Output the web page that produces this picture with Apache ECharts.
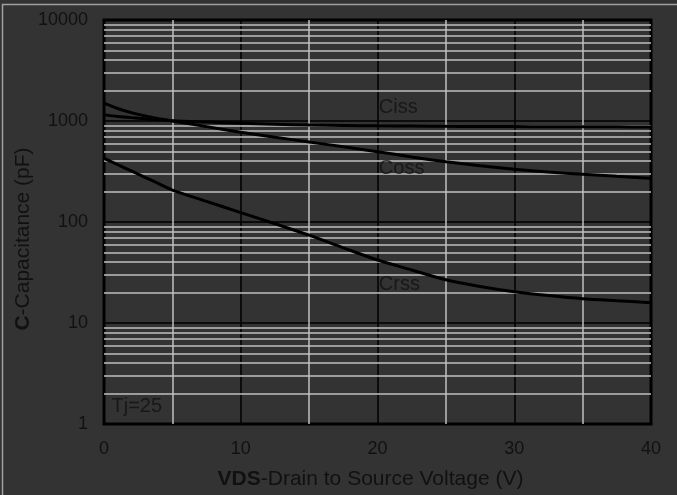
<!DOCTYPE html>
<html>
<head>
<meta charset="utf-8">
<script src="https://cdn.jsdelivr.net/npm/echarts@6/dist/echarts.min.js"></script>
<style>
  html, body { margin: 0; padding: 0; background: #333333; }
  #chart { width: 677px; height: 495px; }
</style>
</head>
<body>
<div id="chart"></div>
<script>
// Drain-source voltage sample points (V)
const vds  = [0, 1, 2, 3, 4, 5, 7.5, 10, 12.5, 15, 17.5, 20, 22.5, 25, 27.5, 30, 32.5, 35, 37.5, 40];
// Input capacitance (pF)
const ciss = [1150, 1110, 1080, 1055, 1030, 1005, 975, 948, 930, 912, 902, 895, 890, 886, 883, 880, 878, 876, 875, 873];
// Output capacitance (pF)
const coss = [1500, 1330, 1210, 1120, 1055, 1000, 880, 775, 690, 620, 555, 497, 440, 395, 360, 333, 312, 297, 283, 271];
// Reverse transfer capacitance (pF)
const crss = [427, 369, 320, 277, 240, 207, 160, 124, 96, 74, 55.5, 42, 33.5, 26.8, 23, 20.4, 18.7, 17.4, 16.6, 15.9];

// Axis ranges
const xRange = [0, 40];
const yRange = [1, 10000];

// Curve names and the text notes placed beside them
const curveNames = ['Ciss', 'Coss', 'Crss'];
const notes = [
  { text: 'Ciss',  x: 20.1, y: 1355 },
  { text: 'Coss',  x: 20.1, y: 335 },
  { text: 'Crss',  x: 20.1, y: 23.8 },
  { text: 'Tj=25', x: 0.55, y: 1.48 }
];

// Light minor grid lines inside each decade (2..9 x 10^n)
const minorY = [];
for (let d = yRange[0]; d < yRange[1]; d *= 10) {
  for (let k = 2; k <= 9; k++) minorY.push(k * d);
}

const FONT = "'Liberation Sans', Arial, sans-serif";
const INK = '#111111';

const pair = (ys) => vds.map((x, i) => [x, ys[i]]);
const curve = (name, ys) => ({
  name: name,
  type: 'line',
  data: pair(ys),
  smooth: 0.3,
  showSymbol: false,
  symbol: 'none',
  z: 5,
  lineStyle: { color: '#000000', width: 3 },
  silent: true
});

const chart = echarts.init(document.getElementById('chart'), null, { renderer: 'canvas' });
chart.setOption({
  backgroundColor: '#333333',
  animation: false,
  graphic: [{
    type: 'rect',
    shape: { x: 2.5, y: 4.5, width: 800, height: 800 },
    style: { fill: 'none', stroke: '#a0a0a0', lineWidth: 1.5 },
    silent: true,
    z: 0
  }],
  grid: {
    left: 104, right: 26, top: 20, bottom: 71,
    outerBoundsMode: 'none',
    containLabel: false,
    show: true,
    backgroundColor: '#333333',
    borderColor: '#000000',
    borderWidth: 3
  },
  xAxis: {
    type: 'value',
    min: xRange[0], max: xRange[1], interval: 10,
    name: '{b|VDS}-Drain to Source Voltage (V)',
    nameLocation: 'middle',
    nameGap: 45,
    nameMoveOverlap: false,
    nameTextStyle: {
      fontFamily: FONT, fontSize: 21, color: INK,
      padding: [0, 14, 0, 0],
      rich: { b: { fontFamily: FONT, fontSize: 21, fontWeight: 'bold', color: INK } }
    },
    axisLine: { show: false },
    axisTick: { show: false },
    axisLabel: { fontFamily: FONT, fontSize: 18, color: INK, margin: 16 },
    splitLine: { show: true, lineStyle: { color: '#000000', width: 1.5 } },
    minorTick: { show: false, splitNumber: 2 },
    minorSplitLine: { show: true, lineStyle: { color: '#c0c0c0', width: 1.5 } }
  },
  yAxis: {
    type: 'log',
    logBase: 10,
    min: yRange[0], max: yRange[1],
    name: '{b|C}-Capacitance (pF)',
    nameLocation: 'middle',
    nameGap: 70,
    nameMoveOverlap: false,
    nameTextStyle: {
      fontFamily: FONT, fontSize: 21, color: INK,
      padding: [0, 34, 0, 0],
      rich: { b: { fontFamily: FONT, fontSize: 21, fontWeight: 'bold', color: INK } }
    },
    axisLine: { show: false },
    axisTick: { show: false },
    axisLabel: {
      fontFamily: FONT, fontSize: 18, color: INK, margin: 16,
      formatter: v => String(v)
    },
    splitLine: { show: true, lineStyle: { color: '#000000', width: 1.5 } }
  },
  series: [
    {
      name: 'grid-minor',
      type: 'line',
      data: [],
      z: 2,
      silent: true,
      markLine: {
        silent: true,
        symbol: ['none', 'none'],
        label: { show: false },
        animation: false,
        lineStyle: { color: '#c0c0c0', width: 1.5, type: 'solid' },
        data: minorY.map(v => ({ yAxis: v }))
      }
    },
    curve(curveNames[0], ciss),
    curve(curveNames[1], coss),
    curve(curveNames[2], crss),
    {
      name: 'notes',
      type: 'scatter',
      symbolSize: 0,
      z: 6,
      silent: true,
      data: notes.map(n => ({ value: [n.x, n.y], note: n.text })),
      label: {
        show: true,
        position: 'right',
        distance: 0,
        fontFamily: FONT,
        fontSize: 20,
        color: INK,
        formatter: p => p.data.note
      }
    }
  ]
});
</script>
</body>
</html>
